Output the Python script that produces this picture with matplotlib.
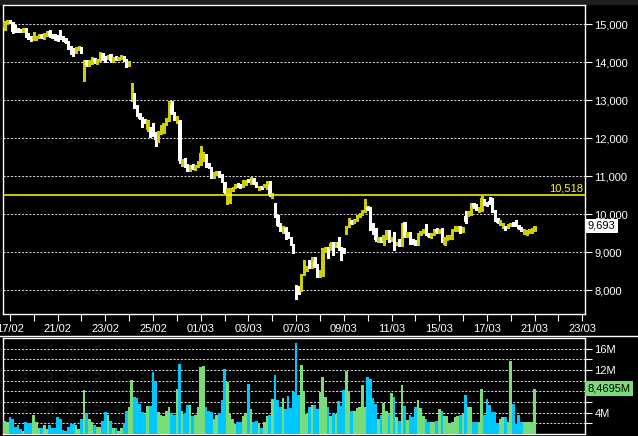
import matplotlib
matplotlib.use("Agg")
import matplotlib.pyplot as plt
from matplotlib.lines import Line2D
from matplotlib.patches import Rectangle
import numpy as np

plt.rcParams['font.family'] = ['Liberation Sans', 'DejaVu Sans']

# ---------------- data (intraday bars, 9 per trading day) ----------------
opens = [
    14890, 15030, 15100, 15050, 14970, 14880, 14860, 14820, 14890, 14750,
    14680, 14600, 14600, 14650, 14730, 14630, 14710, 14820, 14730, 14720,
    14700, 14770, 14670, 14610, 14550, 14420, 14360, 14250, 14330, 14400,
    13830, 14050, 13920, 13960, 14080, 13960, 14050, 14230, 14140, 14100,
    14210, 14010, 14160, 14070, 14090, 14160, 14070, 13920, 13000, 13170,
    12870, 12650, 12540, 12510, 12210, 12280, 12390, 12160, 11900, 12120,
    12160, 12350, 12470, 12870, 12690, 12400, 12450, 11300, 11450, 11300,
    11150, 11300, 11180, 11250, 11300, 11400, 11580, 11340, 11240, 10980,
    11050, 11120, 11050, 10850, 10320, 10370, 10610, 10700, 10800, 10800,
    10730, 10790, 10910, 10880, 10940, 10850, 10650, 10740, 10720, 10760,
    10780, 10490, 10290, 9970, 9750, 9530, 9650, 9530, 9400, 9200,
    8130, 8100, 8000, 8420, 8530, 8790, 8600, 8750, 8690, 8360,
    8380, 9010, 9140, 9070, 9260, 9140, 9260, 9120, 9090, 9580,
    9670, 9840, 9770, 9840, 9930, 9980, 10060, 10200, 10180, 9670,
    9620, 9270, 9400, 9270, 9360, 9580, 9320, 9400, 9190, 9270,
    9170, 9800, 9420, 9530, 9350, 9320, 9400, 9470, 9510, 9620,
    9490, 9380, 9470, 9620, 9530, 9420, 9190, 9330, 9360, 9360,
    9580, 9560, 9680, 9540, 9950, 9970, 9980, 10300, 10260, 10060,
    10100, 10390, 10320, 10350, 10410, 10100, 9890, 9740, 9650, 9690,
    9650, 9690, 9800, 9840, 9710, 9650, 9490, 9490, 9510, 9530,
    9580,
]
highs = [
    15080, 15120, 15120, 15070, 14990, 14900, 14880, 14910, 14900, 14770,
    14700, 14790, 14700, 14740, 14750, 14760, 14830, 14840, 14750, 14740,
    14710, 14840, 14690, 14630, 14560, 14430, 14370, 14390, 14430, 14410,
    14060, 14070, 14060, 14130, 14100, 14080, 14270, 14240, 14160, 14190,
    14220, 14130, 14170, 14150, 14180, 14170, 14080, 14030, 13450, 13200,
    12880, 12660, 12550, 12520, 12480, 12290, 12400, 12170, 12200, 12350,
    12410, 12530, 12990, 12970, 12700, 12590, 12480, 11460, 11470, 11320,
    11310, 11320, 11310, 11410, 11810, 11650, 11590, 11350, 11250, 11100,
    11150, 11130, 11060, 10860, 10700, 10680, 10710, 10800, 10820, 10810,
    10900, 10890, 10920, 10970, 10950, 10860, 10750, 10750, 10800, 10870,
    10870, 10550, 10300, 9980, 9760, 9680, 9660, 9540, 9410, 9210,
    8140, 8110, 8430, 8790, 8640, 8800, 8870, 8880, 8700, 8530,
    9110, 9150, 9150, 9260, 9270, 9270, 9400, 9130, 9100, 9680,
    9900, 9850, 9870, 9980, 10030, 10100, 10400, 10210, 10190, 9780,
    9630, 9410, 9410, 9460, 9590, 9590, 9400, 9540, 9280, 9360,
    9760, 9810, 9540, 9540, 9360, 9330, 9500, 9570, 9610, 9740,
    9500, 9500, 9610, 9630, 9610, 9630, 9400, 9460, 9460, 9610,
    9690, 9690, 9690, 9660, 10080, 10090, 10310, 10310, 10270, 10200,
    10470, 10400, 10330, 10450, 10420, 10110, 9900, 9850, 9780, 9700,
    9750, 9780, 9810, 9860, 9720, 9660, 9610, 9590, 9610, 9630,
    9700,
]
lows = [
    14860, 15010, 15040, 14780, 14810, 14790, 14790, 14810, 14670, 14600,
    14570, 14590, 14590, 14640, 14640, 14620, 14700, 14670, 14640, 14590,
    14570, 14620, 14570, 14500, 14350, 14220, 14170, 14240, 14320, 14250,
    13520, 13910, 13910, 13950, 13990, 13950, 14040, 14060, 14000, 14090,
    14020, 14000, 14060, 14060, 14080, 14040, 13870, 13910, 12990, 12810,
    12590, 12510, 12290, 12390, 12200, 12040, 12070, 11810, 11890, 12110,
    12150, 12340, 12460, 12640, 12480, 12390, 11350, 11280, 11240, 11140,
    11140, 11190, 11170, 11240, 11290, 11390, 11240, 11230, 10960, 10950,
    11040, 10980, 10840, 10550, 10260, 10290, 10600, 10690, 10720, 10690,
    10720, 10780, 10840, 10790, 10800, 10710, 10640, 10660, 10710, 10670,
    10490, 10440, 9920, 9690, 9550, 9520, 9360, 9380, 9190, 8970,
    7760, 7900, 7990, 8410, 8520, 8590, 8590, 8600, 8340, 8350,
    8370, 9000, 8860, 9060, 8920, 9130, 9050, 8810, 8990, 9490,
    9660, 9740, 9760, 9830, 9920, 9970, 10050, 10110, 9590, 9490,
    9310, 9260, 9260, 9190, 9350, 9260, 9310, 9050, 9180, 9170,
    9160, 9390, 9410, 9220, 9220, 9200, 9180, 9460, 9500, 9460,
    9390, 9370, 9460, 9520, 9520, 9260, 9180, 9320, 9350, 9350,
    9570, 9550, 9520, 9530, 9780, 9960, 9970, 10170, 10110, 10050,
    10090, 10250, 10230, 10270, 10050, 9830, 9760, 9730, 9640, 9590,
    9640, 9680, 9700, 9680, 9610, 9550, 9480, 9450, 9500, 9520,
    9570,
]
closes = [
    15050, 15100, 15050, 14800, 14820, 14800, 14800, 14890, 14680, 14610,
    14580, 14660, 14680, 14730, 14650, 14750, 14820, 14680, 14650, 14600,
    14580, 14630, 14580, 14510, 14360, 14230, 14180, 14380, 14420, 14260,
    14050, 13920, 14050, 14120, 14000, 14070, 14260, 14070, 14010, 14180,
    14030, 14120, 14070, 14140, 14170, 14050, 13880, 14020, 13060, 12820,
    12600, 12520, 12300, 12400, 12470, 12050, 12080, 11950, 12190, 12340,
    12400, 12520, 12910, 12650, 12490, 12580, 11400, 11450, 11250, 11150,
    11300, 11200, 11300, 11400, 11600, 11580, 11250, 11240, 10980, 11090,
    11140, 10990, 10850, 10560, 10410, 10630, 10700, 10790, 10730, 10700,
    10800, 10880, 10850, 10930, 10810, 10720, 10740, 10710, 10790, 10800,
    10500, 10540, 9930, 9700, 9560, 9670, 9490, 9390, 9200, 8980,
    8050, 8000, 8420, 8600, 8630, 8600, 8760, 8610, 8350, 8520,
    9100, 9140, 9050, 9250, 9100, 9260, 9100, 9030, 9000, 9670,
    9800, 9750, 9860, 9970, 10020, 10090, 10180, 10120, 9600, 9580,
    9320, 9400, 9270, 9450, 9580, 9270, 9390, 9210, 9270, 9180,
    9750, 9400, 9530, 9230, 9230, 9210, 9490, 9560, 9600, 9470,
    9400, 9490, 9600, 9530, 9600, 9270, 9390, 9450, 9450, 9600,
    9680, 9680, 9530, 9650, 9790, 10080, 10300, 10180, 10120, 10190,
    10430, 10260, 10240, 10280, 10060, 9840, 9770, 9840, 9770, 9600,
    9740, 9770, 9710, 9690, 9620, 9560, 9600, 9580, 9600, 9620,
    9693,
]
volumes_m = [
    2.5, 2.2, 3.1, 2.9, 1.4, 1.6, 1.0, 0.65, 2.3, 2.1,
    2.0, 3.6, 2.3, 1.2, 1.2, 1.6, 1.0, 1.6, 1.2, 1.1,
    3.1, 2.9, 0.8, 0.65, 1.4, 2.0, 1.8, 1.6, 1.0, 2.9,
    8.3, 4.0, 2.9, 2.3, 1.6, 1.3, 1.3, 2.5, 4.2, 3.5,
    2.5, 1.2, 1.2, 0.65, 1.2, 2.0, 4.4, 5.1, 10.2, 7.0,
    6.8, 5.7, 4.2, 3.8, 5.3, 5.3, 11.7, 10.0, 4.2, 3.5,
    3.3, 4.4, 5.0, 4.0, 3.5, 8.5, 13.2, 4.4, 3.8, 5.5,
    5.5, 3.3, 3.6, 5.1, 12.6, 12.8, 5.1, 4.4, 4.2, 2.9,
    3.5, 4.0, 6.3, 12.1, 9.8, 4.0, 2.9, 1.8, 2.3, 2.2,
    3.3, 4.0, 9.3, 4.6, 2.3, 2.5, 2.0, 1.2, 2.2, 3.3,
    3.6, 6.6, 11.1, 6.3, 5.1, 6.8, 4.6, 7.2, 4.8, 7.8,
    17.1, 7.4, 13.0, 7.9, 3.8, 5.1, 5.5, 5.5, 4.6, 7.9,
    10.7, 7.0, 5.1, 3.3, 3.8, 3.8, 6.1, 5.3, 8.3, 11.9,
    8.1, 4.4, 4.4, 4.8, 5.0, 9.1, 5.1, 10.6, 10.4, 6.8,
    5.7, 2.9, 3.6, 5.9, 4.4, 3.8, 7.6, 7.0, 3.1, 2.5,
    9.1, 5.3, 2.7, 3.6, 3.1, 5.1, 6.4, 4.8, 3.3, 2.9,
    2.3, 2.2, 2.3, 2.5, 4.6, 4.4, 3.3, 3.3, 2.0, 2.2,
    3.1, 3.3, 3.6, 3.8, 7.4, 5.1, 5.1, 2.2, 2.2, 2.3,
    8.5, 3.6, 6.6, 5.5, 4.2, 4.2, 2.0, 2.9, 3.1, 3.1,
    2.2, 13.6, 5.7, 1.8, 3.5, 2.2, 2.2, 2.2, 2.3, 2.2,
    8.4695,
]
day_labels = ['17/02', '18/02', '21/02', '22/02', '23/02', '24/02', '25/02',
              '28/02', '01/03', '02/03', '03/03', '04/03', '07/03', '08/03',
              '09/03', '10/03', '11/03', '14/03', '15/03', '16/03', '17/03',
              '18/03', '21/03', '22/03', '23/03']
ref_level = 10518
ref_label = '10,518'
last_price_label = '9,693'
last_volume_label = '8,4695M'
price_ticks = [8000, 9000, 10000, 11000, 12000, 13000, 14000, 15000]
price_tick_labels = ['8,000', '9,000', '10,000', '11,000', '12,000', '13,000', '14,000', '15,000']
vol_ticks = [2, 4, 6, 8, 10, 12, 14, 16]
vol_tick_labels = ['', '4M', '', '', '', '12M', '', '16M']  # 8M hidden behind the last-volume tag

# ---------------- style ----------------
BG = '#000000'
UP = '#CFCF00'
DOWN = '#FFFFFF'
VUP = '#78DC78'
VDOWN = '#00C8FF'
GRID = '#D8D8D8'
BARS_PER_DAY = 9
FIRST_TICK = 2

o = np.array(opens, float); h = np.array(highs, float)
l = np.array(lows, float); c = np.array(closes, float)
v = np.array(volumes_m, float)
x = np.arange(len(c))
up = c >= o

W, H = 638, 436
fig = plt.figure(figsize=(W / 100, H / 100), dpi=100, facecolor=BG)

def fr(x0, y0, x1, y1):
    return [x0 / W, 1 - y1 / H, (x1 - x0) / W, (y1 - y0) / H]

ax = fig.add_axes(fr(3.3, 5.3, 585.3, 313.5))
axv = fig.add_axes(fr(3.3, 338.3, 585.3, 434.0), sharex=ax)

for a in (ax, axv):
    a.set_facecolor(BG)
    for s in a.spines.values():
        s.set_color('white')
        s.set_linewidth(1.0)
    a.yaxis.tick_right()
    a.tick_params(axis='y', colors='white', length=5, width=0.8, pad=1.5,
                  labelsize=8, labelcolor='white')

xmin, xmax = -0.49, 219.13
ax.set_xlim(xmin, xmax)
ax.set_ylim(7389, 15500)
axv.set_ylim(0, 17.95)

# grids
ax.set_yticks(price_ticks)
ax.set_yticklabels(price_tick_labels)
for yv in price_ticks:
    ax.axhline(yv, color=GRID, lw=0.7, ls=(0, (2.2, 1.6)), zorder=1)
axv.set_yticks(vol_ticks)
axv.set_yticklabels(vol_tick_labels)
for yv in vol_ticks:
    axv.axhline(yv, color=GRID, lw=0.7, ls=(0, (2.2, 1.6)), zorder=1)

# x ticks (one per day, label every other day)
tick_pos = [FIRST_TICK + BARS_PER_DAY * k for k in range(len(day_labels))]
ax.set_xticks(tick_pos)
ax.set_xticklabels([lab if k % 2 == 0 else '' for k, lab in enumerate(day_labels)])
ax.tick_params(axis='x', colors='white', length=5, width=0.8, pad=2.5,
               labelsize=8, labelcolor='white')
axv.tick_params(axis='x', bottom=False, labelbottom=False)

# candles
col = np.where(up, UP, DOWN)
ax.vlines(x, l, h, colors=col, lw=1.0, zorder=3, antialiased=False)
body_lo = np.minimum(o, c)
body_h = np.maximum(np.abs(c - o), 20)
ax.bar(x, body_h, bottom=body_lo, width=0.95, color=col, edgecolor='none',
       zorder=4, antialiased=False)

# reference level
ax.axhline(ref_level, color='#FFFF00', lw=1.1, zorder=5)
ax.text(0.996, ref_level + 40, ref_label, transform=ax.get_yaxis_transform(),
        ha='right', va='bottom', color='#FFFF00', fontsize=8, zorder=6)

# last price tag
ax.text(1.0045, closes[-1], last_price_label, transform=ax.get_yaxis_transform(),
        ha='left', va='center', color='black', fontsize=8, clip_on=False,
        bbox=dict(boxstyle='square,pad=0.22', fc='white', ec='none'), zorder=10)

# volume
vcol = np.where(up, VUP, VDOWN)
axv.bar(x, v, width=1.0, color=vcol, edgecolor='none', zorder=3,
        antialiased=False)
axv.text(1.0045, v[-1], last_volume_label, transform=axv.get_yaxis_transform(),
         ha='left', va='center', color='black', fontsize=8, clip_on=False,
         bbox=dict(boxstyle='square,pad=0.22', fc=VUP, ec='none'), zorder=10)

# decorations: top band and separator line
fig.add_artist(Rectangle((0, 1 - 4.5 / H), 1, 4.5 / H, transform=fig.transFigure,
                         color='#1E1E1E', zorder=0))
fig.add_artist(Line2D([0, 1], [1 - 335.5 / H, 1 - 335.5 / H],
                      transform=fig.transFigure, color='white', lw=1.0))

fig.savefig('out.png', dpi=100, facecolor=BG)
